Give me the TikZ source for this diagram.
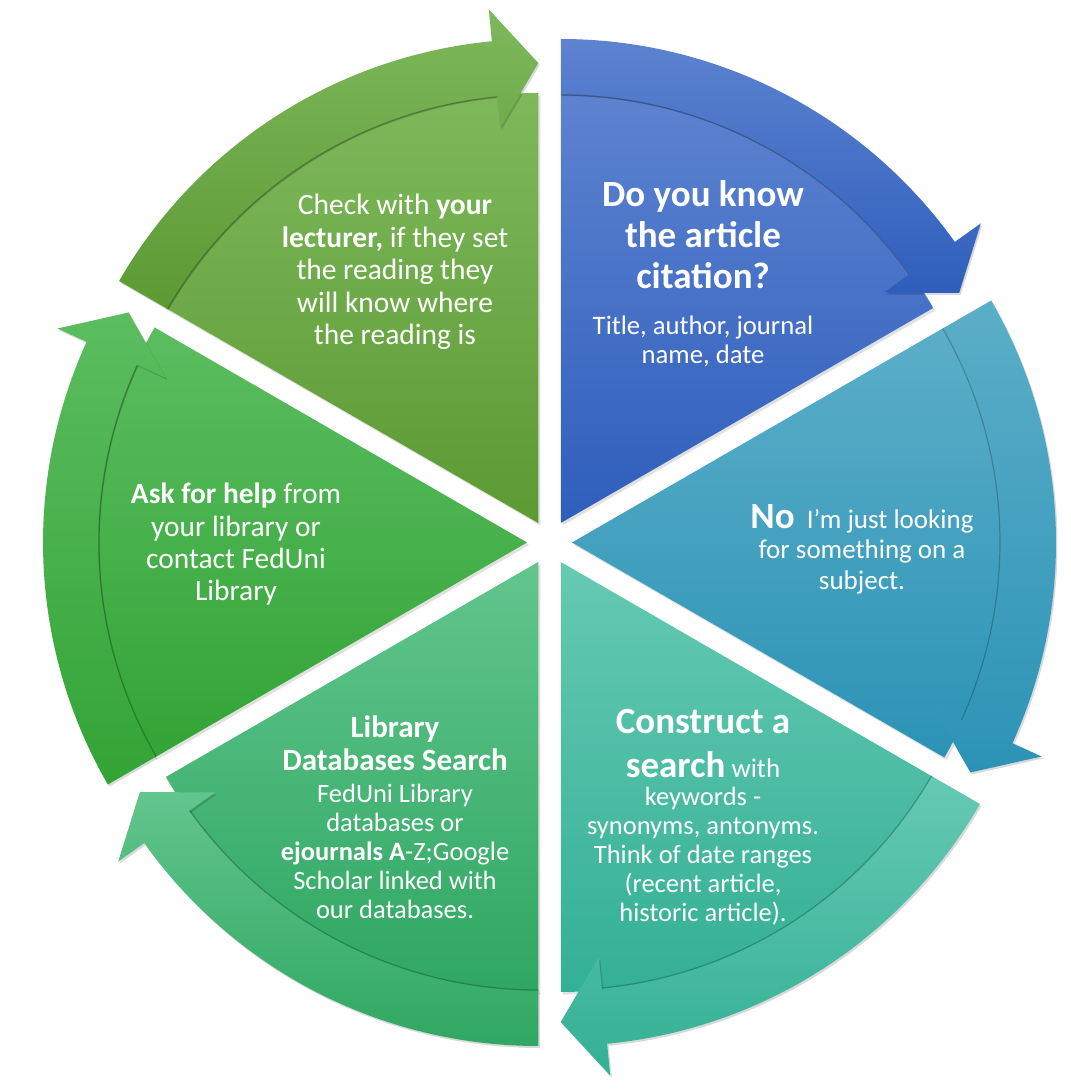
\documentclass[tikz,border=0pt]{standalone}
\usepackage{fontspec}
\setmainfont{Carlito}
\definecolor{blueTop}{HTML}{5D83D0}
\definecolor{blueBot}{HTML}{2E5EBC}
\definecolor{noTop}{HTML}{5BAEC8}
\definecolor{noBot}{HTML}{2C93B6}
\definecolor{conTop}{HTML}{66C9B3}
\definecolor{conBot}{HTML}{33B095}
\definecolor{libTop}{HTML}{62C58D}
\definecolor{libBot}{HTML}{2FA762}
\definecolor{askTop}{HTML}{5BBD60}
\definecolor{askBot}{HTML}{33A436}
\definecolor{chkTop}{HTML}{7EB85C}
\definecolor{chkBot}{HTML}{5C9A33}
\newcommand\cycseg[3]{%
 \begin{scope}[shift={(C)},shift={(#1:22.5pt)}]
  \pgfmathsetmacro\aA{#1+30}\pgfmathsetmacro\aB{#1-30}\pgfmathsetmacro\aC{#1-24.5}
  \fill[black,opacity=.12,shift={(2pt,-2.5pt)}] (0,0) -- (\aA:430pt) arc[start angle=\aA,end angle=\aB,radius=430pt] -- cycle;
  \shade[top color=#2,bottom color=#3] (0,0) -- (\aA:430pt) arc[start angle=\aA,end angle=\aB,radius=430pt] -- cycle;
  \draw[black,opacity=.22,line width=1.2pt] (\aA:428pt) arc[start angle=\aA,end angle=\aC,radius=428pt];
  \fill[black,opacity=.15,shift={(1.5pt,-2pt)}] (\aA:484pt) arc[start angle=\aA,end angle=\aC,radius=484pt] -- (\aC:516pt) -- (\aB:460pt) -- (\aC:397pt) -- (\aC:429pt) arc[start angle=\aC,end angle=\aA,radius=429pt] -- cycle;
  \shade[top color=#2,bottom color=#3] (\aA:484pt) arc[start angle=\aA,end angle=\aC,radius=484pt] -- (\aC:516pt) -- (\aB:460pt) -- (\aC:397pt) -- (\aC:429pt) arc[start angle=\aC,end angle=\aA,radius=429pt] -- cycle;
 \end{scope}}
\begin{document}
\begin{tikzpicture}[x=1pt,y=1pt,
  txt/.style={text=white,align=center,inner sep=0pt,font=\fontsize{26.5}{29}\selectfont},
  bigb/.style={text=white,align=center,inner sep=0pt,font=\bfseries\fontsize{37}{41}\selectfont}]
\useasboundingbox[fill=white] (0,0) rectangle (1070,1091);
\coordinate (C) at (549.5,548.5);
\cycseg{60}{blueTop}{blueBot}
\cycseg{0}{noTop}{noBot}
\cycseg{-60}{conTop}{conBot}
\cycseg{-120}{libTop}{libBot}
\cycseg{180}{askTop}{askBot}
\cycseg{120}{chkTop}{chkBot}
% texts
\node[bigb] (blueT) at (703,856) {Do you know\\the article\\citation?};
\node[txt,font=\fontsize{26.7}{29.4}\selectfont] (blueS) at (703,749.5) {Title, author, journal\\name, date};
\node[txt,font=\fontsize{27}{30.5}\selectfont] (noT) at (862,542) {{\bfseries\fontsize{37}{30.5}\selectfont No}\ \ I'm just looking\\for something on a\\subject.};
\node[bigb] (conA) at (703,369) {Construct a};
\node[txt,font=\fontsize{27}{30}\selectfont] (conB) at (703,326) {{\bfseries\fontsize{37}{30}\selectfont search}\ with};
\node[txt] (conC) at (703,235) {keywords -\\synonyms, antonyms.\\Think of date ranges\\(recent article,\\historic article).};
\node[bigb,font=\bfseries\fontsize{31}{33}\selectfont] (libT) at (395,347.5) {Library\\Databases Search};
\node[txt] (libS) at (395,240) {FedUni Library\\databases or\\\textbf{ejournals A}-Z;Google\\Scholar linked with\\our databases.};
\node[txt,font=\fontsize{29.4}{32.3}\selectfont] (askT) at (236,546.5) {\textbf{Ask for help} from\\your library or\\contact FedUni\\Library};
\node[txt,font=\fontsize{29.5}{32.5}\selectfont] (chkT) at (395,819) {Check with \textbf{your}\\\textbf{lecturer,} if they set\\the reading they\\will know where\\the reading is};
\end{tikzpicture}
\end{document}
